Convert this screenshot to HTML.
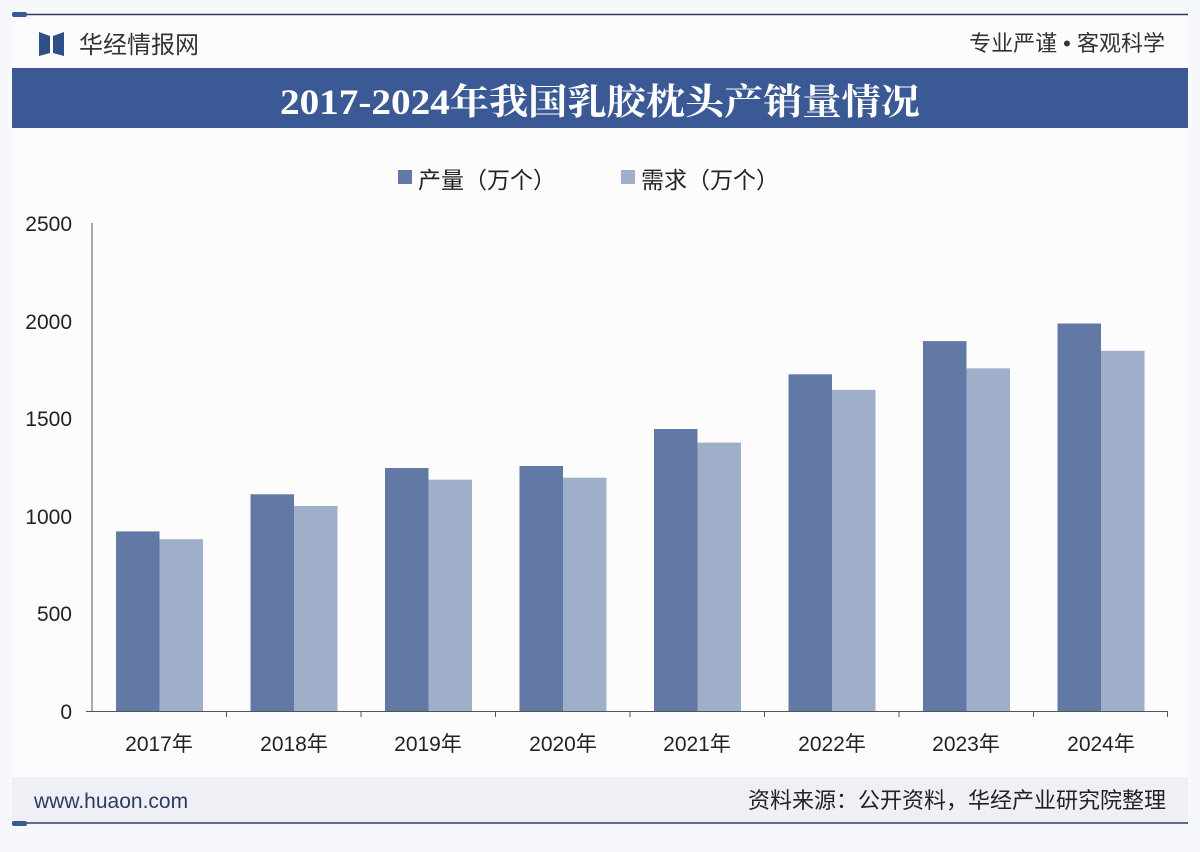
<!DOCTYPE html>
<html><head><meta charset="utf-8"><style>
body{margin:0;width:1200px;height:847px;background:#f7f8fb;overflow:hidden;font-family:"Liberation Sans","Noto Sans CJK SC",sans-serif}
</style></head><body>
<svg width="1200" height="847" xmlns="http://www.w3.org/2000/svg" font-family="Liberation Sans, Noto Sans CJK SC, sans-serif">
<rect width="1200" height="847" fill="#f7f8fb"/>
<rect x="12" y="14" width="1176" height="810" fill="#fcfcfd"/>
<line x1="12" y1="14.5" x2="1188" y2="14.5" stroke="#2c3b5e" stroke-width="1.5"/>
<rect x="12" y="12" width="15" height="5" rx="2" fill="#3a5a95"/>
<path d="M39 32 L50 36 L50 53 L39 56 Z" fill="#2f4f8a"/><path d="M64 32 L53 36 L53 53 L64 56 Z" fill="#2f4f8a"/>
<text x="79" y="53" font-size="24" fill="#333">华经情报网</text>
<text x="1165" y="51" font-size="22" fill="#333" text-anchor="end">专业严谨 • 客观科学</text>
<rect x="12" y="68" width="1176" height="60" fill="#3b5a95"/>
<text x="600" y="114" font-size="36" font-weight="bold" fill="#fff" text-anchor="middle" textLength="640" lengthAdjust="spacingAndGlyphs" font-family="Liberation Serif, Noto Serif CJK SC, serif">2017-2024年我国乳胶枕头产销量情况</text>
<rect x="398" y="170" width="14" height="14" fill="#6379a5"/>
<text x="418" y="188" font-size="23" fill="#222">产量（万个）</text>
<rect x="621" y="170" width="14" height="14" fill="#a0afc9"/>
<text x="641" y="188" font-size="23" fill="#222">需求（万个）</text>
<g font-size="21" fill="#222" text-anchor="end">
<text x="72" y="719">0</text><text x="72" y="621">500</text><text x="72" y="524">1000</text><text x="72" y="426">1500</text><text x="72" y="329">2000</text><text x="72" y="231">2500</text>
</g>
<line x1="92" y1="223" x2="92" y2="712" stroke="#555"/>
<line x1="86" y1="711.5" x2="1168" y2="711.5" stroke="#555"/>
<g fill="#6379a5">
<rect x="116" y="531.4" width="43.5" height="179.6"/>
<rect x="250.5" y="494.3" width="43.5" height="216.7"/>
<rect x="385" y="468" width="43.5" height="243"/>
<rect x="519.5" y="466" width="43.5" height="245"/>
<rect x="654" y="429" width="43.5" height="282"/>
<rect x="788.5" y="374.3" width="43.5" height="336.7"/>
<rect x="923" y="341.1" width="43.5" height="369.9"/>
<rect x="1057.5" y="323.5" width="43.5" height="387.5"/>
</g>
<g fill="#a0afc9">
<rect x="159.5" y="539.2" width="43.5" height="171.8"/>
<rect x="294" y="506" width="43.5" height="205"/>
<rect x="428.5" y="479.7" width="43.5" height="231.3"/>
<rect x="563" y="477.7" width="43.5" height="233.3"/>
<rect x="697.5" y="442.6" width="43.5" height="268.4"/>
<rect x="832" y="389.9" width="43.5" height="321.1"/>
<rect x="966.5" y="368.4" width="43.5" height="342.6"/>
<rect x="1101" y="350.8" width="43.5" height="360.2"/>
</g>
<g stroke="#555">
<line x1="226.5" y1="711" x2="226.5" y2="717"/><line x1="361" y1="711" x2="361" y2="717"/><line x1="495.5" y1="711" x2="495.5" y2="717"/><line x1="630" y1="711" x2="630" y2="717"/><line x1="764.5" y1="711" x2="764.5" y2="717"/><line x1="899" y1="711" x2="899" y2="717"/><line x1="1033.5" y1="711" x2="1033.5" y2="717"/><line x1="1167.5" y1="711" x2="1167.5" y2="717"/>
</g>
<g font-size="21" fill="#222" text-anchor="middle">
<text x="159" y="751">2017年</text><text x="294" y="751">2018年</text><text x="428" y="751">2019年</text><text x="563" y="751">2020年</text><text x="697" y="751">2021年</text><text x="832" y="751">2022年</text><text x="966" y="751">2023年</text><text x="1101" y="751">2024年</text>
</g>
<rect x="12" y="777" width="1176" height="45" fill="#eef0f5"/>
<text x="34" y="808" font-size="21" fill="#2c3b5e">www.huaon.com</text>
<text x="1166" y="808" font-size="22" fill="#222" text-anchor="end">资料来源：公开资料，华经产业研究院整理</text>
<line x1="12" y1="823" x2="1188" y2="823" stroke="#2c3b5e" stroke-width="1.5"/>
<rect x="12" y="821" width="15" height="5" rx="2" fill="#3a5a95"/>
</svg>
</body></html>
